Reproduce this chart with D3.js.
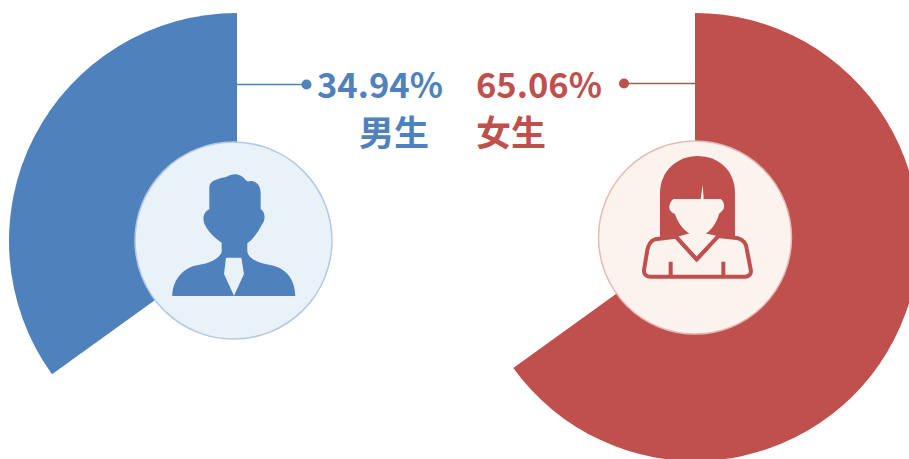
<!DOCTYPE html>
<html><head><meta charset="utf-8">
<script src="https://d3js.org/d3.v7.min.js"></script>
<style>html,body{margin:0;padding:0;background:#fff;overflow:hidden}svg{display:block}</style>
</head><body><svg id="c" width="909" height="459"></svg>
<script>
const categories = ["男生", "女生"];
const shares = [34.94, 65.06];
const valueLabels = ["34.94%", "65.06%"];
const colors = ["#4f81bd", "#c0504d"];
const circleFills = ["#e9f1f9", "#fdf3ee"];
const circleStrokes = ["#b3c8e4", "#e4bab5"];

const svg = d3.select("#c");
const font = '"Noto Sans CJK SC","Noto Sans",sans-serif';

// Each side is its own exploded slice: the male share runs counter-clockwise
// from 12 o'clock, the female share clockwise.
const malePie = d3.pie().sort(null).value(d => d).startAngle(0).endAngle(-2 * Math.PI)(shares)[0];
const femalePie = d3.pie().sort(null).value(d => d).startAngle(0).endAngle(2 * Math.PI)(shares.slice().reverse())[0];
const arcM = d3.arc().innerRadius(0).outerRadius(228);
const arcF = d3.arc().innerRadius(0).outerRadius(224);

svg.append("path").attr("transform", "translate(237,241)").attr("d", arcM(malePie)).attr("fill", colors[0]);
svg.append("path").attr("transform", "translate(695,237)").attr("d", arcF(femalePie)).attr("fill", colors[1]);

// leader lines
svg.append("line").attr("x1", 237).attr("x2", 306).attr("y1", 84.5).attr("y2", 84.5).attr("stroke", colors[0]).attr("stroke-width", 1.3);
svg.append("circle").attr("cx", 306.5).attr("cy", 84.5).attr("r", 5).attr("fill", colors[0]);
svg.append("line").attr("x1", 624).attr("x2", 695).attr("y1", 83.5).attr("y2", 83.5).attr("stroke", colors[1]).attr("stroke-width", 1.3);
svg.append("circle").attr("cx", 624).attr("cy", 83.5).attr("r", 5).attr("fill", colors[1]);

// inner discs
svg.append("circle").attr("cx", 233.5).attr("cy", 240.5).attr("r", 98.5).attr("fill", circleFills[0]).attr("stroke", circleStrokes[0]).attr("stroke-width", 1.5);
svg.append("circle").attr("cx", 695).attr("cy", 237.5).attr("r", 96.5).attr("fill", circleFills[1]).attr("stroke", circleStrokes[1]).attr("stroke-width", 1.5);

// male icon
const man = svg.append("g").attr("transform", "translate(130,130) scale(0.3333)");
man.append("path").attr("fill", colors[0]).attr("d",
 "M238 170 C240 150 268 145 290 140 C305 131 330 128 345 148 C350 155 355 155 362 153 C380 153 392 168 392 190 L392 238 C406 245 408 270 395 285 C385 305 368 330 352 340 L352 365 C355 385 385 400 420 405 C460 412 495 440 496 498 L127 498 C127 450 160 412 205 405 C240 400 270 385 275 365 L275 338 C255 325 235 305 225 285 C215 265 222 245 238 238 Z");
man.append("path").attr("fill", circleFills[0]).attr("d", "M288 383 L334 383 L342 432 L312 497 L282 432 Z");

// female icon
const woman = svg.append("g").attr("transform", "translate(590,130) scale(0.3333)");
woman.append("path").attr("fill", colors[1]).attr("d",
 "M210 325 L210 190 C210 120 265 78 322 78 C385 78 435 120 435 190 L435 325 Z");
woman.append("path").attr("fill", circleFills[1]).attr("stroke", colors[1]).attr("stroke-width", 12).attr("stroke-linejoin", "round").attr("d",
 "M258 320 L195 328 C180 332 175 345 172 360 L162 420 C160 432 170 440 180 440 L465 440 C478 440 485 430 482 418 L470 355 C468 338 460 330 445 325 L385 318 L320 388 Z");
woman.append("path").attr("fill", circleFills[1]).attr("d",
 "M250 207 L332 207 L338 165 L341 207 L392 207 C400 212 406 228 400 238 C396 245 390 248 387 252 C380 280 360 305 345 312 L300 312 C280 300 262 275 255 252 C245 248 236 240 238 228 C240 218 245 212 250 207 Z");
woman.append("path").attr("fill", circleFills[1]).attr("d", "M262 320 L300 310 L345 310 L382 318 L320 380 Z");
woman.append("path").attr("fill", "none").attr("stroke", colors[1]).attr("stroke-width", 12).attr("d", "M258 320 L320 388 L385 318 M242 395 L242 436 M400 395 L400 436");

// labels
svg.append("text").attr("x", 317).attr("y", 97.5).attr("font-family", font).attr("font-weight", 700).attr("font-size", 34.5).attr("fill", colors[0]).text(valueLabels[0]);
svg.append("text").attr("x", 476).attr("y", 97.5).attr("font-family", font).attr("font-weight", 700).attr("font-size", 34.5).attr("fill", colors[1]).text(valueLabels[1]);
svg.append("text").attr("x", 359).attr("y", 145.5).attr("font-family", font).attr("font-weight", 700).attr("font-size", 35).attr("fill", colors[0]).text(categories[0]);
svg.append("text").attr("x", 476).attr("y", 145.5).attr("font-family", font).attr("font-weight", 700).attr("font-size", 35).attr("fill", colors[1]).text(categories[1]);
</script></body></html>
